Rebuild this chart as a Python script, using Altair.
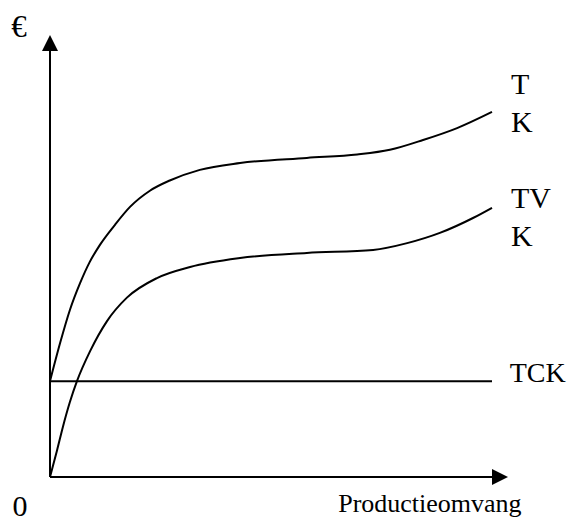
import altair as alt
import pandas as pd

# Curve data (production volume in units 0-100, euro in units 0-100)
tk_x = [0, 2.3, 4.5, 6.8, 9.0, 11.3, 14.7, 18.1, 22.6, 27.1, 33.9, 43.0, 58.1, 69.5, 76.9, 84.4, 92.1, 100]
tk_y = [22.5, 31.5, 39.2, 45.5, 50.5, 54.5, 59.2, 63.4, 67.2, 69.6, 72.1, 73.7, 74.9, 75.7, 76.8, 79.1, 81.9, 85.7]

tvk_x = [0, 1.6, 2.9, 4.5, 6.1, 9.1, 12.9, 17.4, 24.2, 31.7, 43.0, 58.1, 73.1, 80.8, 88.2, 95.7, 100]
tvk_y = [0, 6.3, 11.7, 17.6, 22.5, 29.6, 36.6, 42.1, 46.7, 49.3, 51.4, 52.6, 53.3, 54.9, 57.3, 60.8, 63.2]

tck_x = [0, 100]
tck_y = [22.5, 22.5]

# Text labels
label_text = ["€", "T", "K", "TV", "K", "TCK", "0", "Productieomvang"]
label_x = [-7.0, 104.3, 104.3, 104.3, 104.3, 104.0, -6.8, 65.2]
label_y = [103.3, 89.9, 81.0, 63.1, 54.2, 22.3, -9.2, -8.2]
label_align = ["center", "left", "left", "left", "left", "left", "center", "left"]
label_size = [31, 30, 30, 30, 30, 28, 30, 26]

curves = pd.concat([
    pd.DataFrame({"x": tk_x, "y": tk_y, "s": "TK"}),
    pd.DataFrame({"x": tvk_x, "y": tvk_y, "s": "TVK"}),
    pd.DataFrame({"x": tck_x, "y": tck_y, "s": "TCK"}),
])

xs = alt.Scale(domain=[0, 100], nice=False, zero=False)
ys = alt.Scale(domain=[0, 100], nice=False, zero=False)
X = lambda f: alt.X(f, type="quantitative", scale=xs, axis=None)
Y = lambda f: alt.Y(f, type="quantitative", scale=ys, axis=None)

lines = alt.Chart(curves).mark_line(
    color="black", strokeWidth=2, interpolate="monotone"
).encode(x=X("x"), y=Y("y"), detail="s:N")

axes_df = pd.DataFrame({"x": [0, 0], "y": [0, 0], "x2": [0, 100], "y2": [100, 0]})
axes = alt.Chart(axes_df).mark_rule(color="black", strokeWidth=2).encode(
    x=X("x"), y=Y("y"), x2="x2:Q", y2="y2:Q"
)

up = alt.Chart(pd.DataFrame({"x": [0], "y": [100]})).mark_point(
    shape="M0,-2L1,0L-1,0Z", filled=True, size=256, color="black", opacity=1, strokeWidth=0
).encode(x=X("x"), y=Y("y"))
right = alt.Chart(pd.DataFrame({"x": [100], "y": [0]})).mark_point(
    shape="M2,0L0,-1L0,1Z", filled=True, size=256, color="black", opacity=1, strokeWidth=0
).encode(x=X("x"), y=Y("y"))

SERIF = '"Liberation Serif", "Times New Roman", Times, serif'

lab_df = pd.DataFrame({"t": label_text, "x": label_x, "y": label_y,
                       "a": label_align, "fs": label_size})
texts = []
for al in ["left", "center"]:
    for fs in sorted(set(label_size)):
        sub = lab_df[(lab_df.a == al) & (lab_df.fs == fs)]
        if len(sub) == 0:
            continue
        texts.append(alt.Chart(sub).mark_text(
            align=al, baseline="alphabetic", font=SERIF,
            fontSize=fs, color="black"
        ).encode(x=X("x"), y=Y("y"), text="t:N"))

chart = alt.layer(lines, axes, up, right, *texts).properties(
    width=442, height=426,
    padding={"left": 42, "top": 43, "right": 76, "bottom": 45},
    autosize=alt.AutoSizeParams(type="none"),
).configure_view(stroke=None)

chart.save("out.html", embed_options={"renderer": "svg", "actions": False})
